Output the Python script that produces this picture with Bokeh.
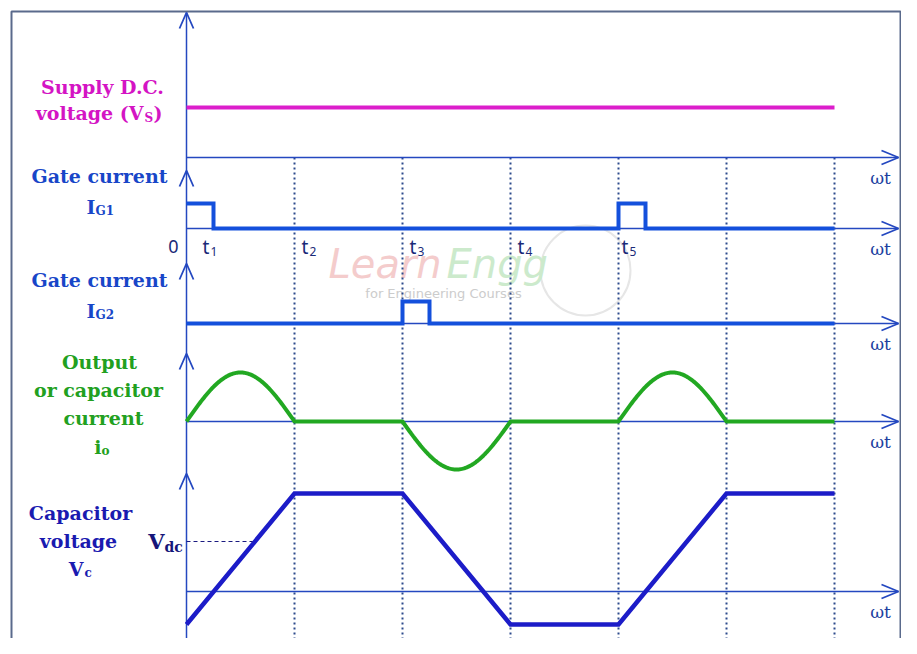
import numpy as np
from bokeh.plotting import figure
from bokeh.models import Range1d
from bokeh.core.properties import value
from bokeh.embed import file_html
from bokeh.resources import INLINE

# ---------------- data (time in half-cycles, 1 unit = pi of wt) ----------------
grid_times = [1, 2, 3, 4, 5, 6]
t_end = 6
event_names = ["1", "2", "3", "4", "5"]          # t1 .. t5
event_times = [0.25, 1, 2, 3, 4]
ig1_pulse_starts = [0, 4]
ig2_pulse_starts = [2]
pulse_width = 0.25
ig1_height = 25
ig2_height = 22
vs_level = 50
io_pos_intervals = [(0, 1), (4, 5)]
io_neg_intervals = [(2, 3)]
io_amp_pos = 49
io_amp_neg = 48
vc_times = [0, 1, 2, 3, 4, 5, 6]
vc_values = [-33, 98, 98, -33, -33, 98, 98]
vdc_level = 50

# ---------------- layout helpers (reference screen pixels) ----------------
W, H = 901, 638
X0 = 186.0          # screen x of time zero
UNIT = 108.0        # px per time unit
def X(sx):
    return (sx - X0) / UNIT
def Y(sy):
    return float(H) - sy
PXX = 1.0 / UNIT

VS_AX, IG1_AX, IG2_AX, IO_AX, VC_AX = 157, 228, 323, 421, 591

p = figure(width=W, height=H, output_backend="svg", toolbar_location=None,
           x_range=Range1d(X(0), X(W)), y_range=Range1d(0, H),
           min_border=0, min_border_left=0, min_border_right=0,
           min_border_top=0, min_border_bottom=0)
p.axis.visible = False
p.grid.visible = False
p.outline_line_color = None
p.background_fill_color = "white"
p.border_fill_color = "white"

# ---------------- watermark ----------------
p.circle(x=[X(585)], y=[Y(270)], radius=45 * PXX, fill_color=None,
         line_color="#e6e6e6", line_width=2)
p.text(x=[X(328)], y=[Y(263)], text=["Learn"], text_font=value("DejaVu Sans"),
       text_font_style="italic", text_font_size="40px", text_color="#f4cccc",
       text_baseline="middle", text_align="left")
p.text(x=[X(446)], y=[Y(263)], text=["Engg"], text_font=value("DejaVu Sans"),
       text_font_style="italic", text_font_size="40px", text_color="#cceacc",
       text_baseline="middle", text_align="left")
p.text(x=[X(443)], y=[Y(293)], text=["for Engineering Courses"],
       text_font=value("DejaVu Sans"), text_font_size="13px", text_color="#cccccc",
       text_baseline="middle", text_align="center")

# ---------------- frame border ----------------
BORDER = "#5a6a8c"
p.line(x=[X(11), X(11), X(900), X(900)], y=[Y(660), Y(11), Y(11), Y(660)],
       line_color=BORDER, line_width=2)

# ---------------- dotted time grid ----------------
p.multi_line(xs=[[t, t] for t in grid_times], ys=[[Y(VS_AX), Y(660)] for _ in grid_times],
             line_color="#2c4a8c", line_width=2, line_dash="2 3")

# ---------------- axes ----------------
AX = "#2448c0"
tip_x = 898
hx = [[0, X(tip_x)] for _ in range(5)]
hy = [[Y(a), Y(a)] for a in (VS_AX, IG1_AX, IG2_AX, IO_AX, VC_AX)]
p.multi_line(xs=hx, ys=hy, line_color=AX, line_width=1.5)
p.line(x=[0, 0], y=[Y(660), Y(12)], line_color=AX, line_width=1.5)
# arrowheads
axs, ays = [], []
for a in (VS_AX, IG1_AX, IG2_AX, IO_AX, VC_AX):
    axs.append([X(tip_x - 17), X(tip_x), X(tip_x - 17)])
    ays.append([Y(a - 7), Y(a), Y(a + 7)])
for tip in (12, 170, 263, 353, 473):
    axs.append([-7 * PXX, 0, 7 * PXX])
    ays.append([Y(tip + 16), Y(tip), Y(tip + 16)])
p.multi_line(xs=axs, ys=ays, line_color=AX, line_width=1.8)

# ---------------- signals ----------------
def pulse_wave(starts, w, h, base):
    xs, ys = [], []
    for s in starts:
        if not xs and s > 0:
            xs += [0]; ys += [base]
        xs += [s, s, s + w, s + w]
        ys += [base, base + h, base + h, base]
    xs += [t_end]; ys += [base]
    if starts[0] == 0:
        xs, ys = xs[1:], ys[1:]
    return xs, ys

# Supply DC
p.line(x=[0, t_end], y=[Y(VS_AX) + vs_level] * 2, line_color="#dc1ecb", line_width=4)

GATE = "#1450dc"
x1, y1 = pulse_wave(ig1_pulse_starts, pulse_width, ig1_height, Y(IG1_AX))
p.line(x=x1, y=y1, line_color=GATE, line_width=4, line_join="miter")
x2, y2 = pulse_wave(ig2_pulse_starts, pulse_width, ig2_height, Y(IG2_AX))
p.line(x=x2, y=y2, line_color=GATE, line_width=4, line_join="miter")

# output current
tt = np.linspace(0, t_end, 601)
io = np.zeros_like(tt)
for a, b in io_pos_intervals:
    m = (tt >= a) & (tt <= b)
    io[m] = io_amp_pos * np.sin(np.pi * (tt[m] - a) / (b - a))
for a, b in io_neg_intervals:
    m = (tt >= a) & (tt <= b)
    io[m] = -io_amp_neg * np.sin(np.pi * (tt[m] - a) / (b - a))
p.line(x=tt, y=Y(IO_AX) + io, line_color="#22a822", line_width=4)

# capacitor voltage
p.line(x=vc_times, y=[Y(VC_AX) + v for v in vc_values], line_color="#1c1cc8",
       line_width=4.5, line_join="miter")
p.line(x=[0, X(252)], y=[Y(VC_AX) + vdc_level] * 2, line_color="#1a1a80",
       line_width=1, line_dash="4 3")

# ---------------- texts ----------------
SERIF = value("DejaVu Serif")
def txt(sx, sy, s, color, size, align="center", style="bold", font=SERIF):
    p.text(x=[X(sx)], y=[Y(sy)], text=[s], text_font=font, text_font_style=style,
           text_font_size=f"{size}px", text_color=color, text_align=align,
           text_baseline="middle")

MAG = "#d414c4"
txt(102, 86, "Supply D.C.", MAG, 19)
txt(143, 112, "voltage (V", MAG, 19, align="right")
txt(144, 117, "S", MAG, 12, align="left")
txt(153, 112, ")", MAG, 19, align="left")

GL = "#1846c8"
txt(99, 175, "Gate current", GL, 19)
txt(95, 206, "I", GL, 19, align="right")
txt(95, 210, "G1", GL, 12, align="left")
txt(99, 279, "Gate current", GL, 19)
txt(95, 310, "I", GL, 19, align="right")
txt(95, 314, "G2", GL, 12, align="left")

GR = "#22a020"
txt(99, 361, "Output", GR, 19)
txt(98, 389, "or capacitor", GR, 19)
txt(103, 417, "current", GR, 19)
txt(101, 446, "i", GR, 19, align="right")
txt(101, 450, "o", GR, 12, align="left")

VC = "#1a1ab0"
txt(80, 512, "Capacitor", VC, 19)
txt(78, 540, "voltage", VC, 19)
txt(83, 568, "V", VC, 19, align="right")
txt(84, 572, "c", VC, 12, align="left")
txt(164, 541, "V", "#16167a", 21, align="right")
txt(164, 546, "dc", "#16167a", 14, align="left")

# time labels
SANS = value("Noto Sans")
NAVY = "#1a2a78"
txt(173, 246, "0", NAVY, 18, style="normal", font=SANS)
offsets = [-11, 7, 7, 7, 3]
for t, n, off in zip(event_times, event_names, offsets):
    sx = X0 + t * UNIT + off
    txt(sx, 246, "t", NAVY, 19, align="left", style="normal", font=SANS)
    txt(sx + 8, 251, n, NAVY, 12, align="left", style="normal", font=SANS)

# wt labels
for a in (VS_AX, IG1_AX, IG2_AX, IO_AX, VC_AX):
    txt(880, a + 20, "ωt", "#2040a0", 17, style="normal")

open("out.html", "w").write(file_html(p, INLINE))
